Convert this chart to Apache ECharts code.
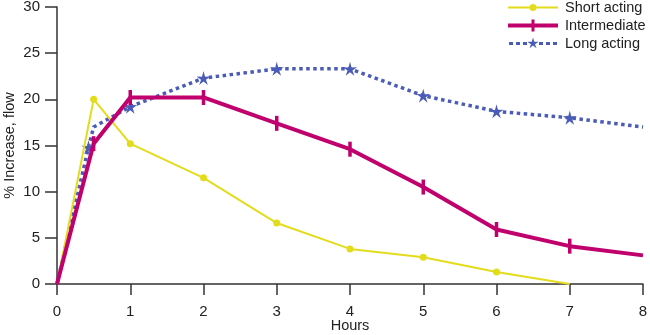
<!DOCTYPE html>
<html>
<head>
<meta charset="utf-8">
<script src="https://cdn.jsdelivr.net/npm/echarts@6/dist/echarts.min.js"></script>
<style>html,body{margin:0;padding:0;background:#fff}#c{width:650px;height:335px}</style>
</head>
<body>
<div id="c"></div>
<script>
const seriesNames = ['Short acting', 'Intermediate', 'Long acting'];
const shortHours = [0, 0.5, 1, 2, 3, 4, 5, 6, 7];
const shortValues = [0, 20.0, 15.2, 11.5, 6.6, 3.8, 2.9, 1.3, 0];
const interHours = [0, 0.5, 1, 2, 3, 4, 5, 6, 7, 8];
const interValues = [0, 15.2, 20.2, 20.2, 17.4, 14.6, 10.5, 5.9, 4.1, 3.1];
const longHours = [0, 0.43, 0.5, 1, 2, 3, 4, 5, 6, 7, 8];
const longValues = [0, 14.8, 17.0, 19.2, 22.3, 23.3, 23.3, 20.4, 18.7, 18.0, 17.0];
const longMarked = [false, true, false, true, true, true, true, true, true, true, false];
const interMarked = [false, true, true, true, true, true, true, true, true, false];
const shortMarked = [false, true, true, true, true, true, true, true, false];
const xTicks = [0, 8, 1];
const yTicks = [0, 30, 5];

const starPath = 'path://M0,-10 L2.06,-2.83 L9.51,-3.09 L3.33,1.08 L5.88,8.09 L0,3.5 L-5.88,8.09 L-3.33,1.08 L-9.51,-3.09 L-2.06,-2.83 Z';

// legend icons drawn in a 50x14 box (anchors at corners keep the box size)
const anchors = 'M0,0 L0.01,0 L0,0.01 Z M50,14 L49.99,14 L50,13.99 Z ';
const iconShort = 'path://' + anchors + 'M0,6 L21.5,6 L21.5,8 L0,8 Z M28.5,6 L50,6 L50,8 L28.5,8 Z M21.5,7 A3.5,3.5 0 1,1 28.5,7 A3.5,3.5 0 1,1 21.5,7 Z';
const iconInter = 'path://' + anchors + 'M0,5 L23.5,5 L23.5,9 L0,9 Z M26.5,5 L50,5 L50,9 L26.5,9 Z M23.5,1 L26.5,1 L26.5,13 L23.5,13 Z';
const iconLong = 'path://' + anchors +
  'M1,5.6 L5,5.6 L5,8.4 L1,8.4 Z M8,5.6 L12,5.6 L12,8.4 L8,8.4 Z M15,5.6 L19,5.6 L19,8.4 L15,8.4 Z ' +
  'M31,5.6 L35,5.6 L35,8.4 L31,8.4 Z M38,5.6 L42,5.6 L42,8.4 L38,8.4 Z M45,5.6 L49,5.6 L49,8.4 L45,8.4 Z ' +
  'M25,1 L26.24,5.3 L30.71,5.15 L27,7.65 L28.53,11.85 L25,9.1 L21.47,11.85 L23,7.65 L19.29,5.15 L23.76,5.3 Z';

function build(hours, vals, marked) {
  return hours.map((h, i) => marked[i] ? [h, vals[i]] : {value: [h, vals[i]], symbol: 'none'});
}

const axisColor = '#333';
const textColor = '#222';
const font = 'Liberation Sans, Arial, sans-serif';
const chart = echarts.init(document.getElementById('c'));
chart.setOption({
  animation: false,
  grid: {left: 57, right: 7, top: 7, bottom: 51, containLabel: false, outerBoundsMode: 'none'},
  legend: {
    orient: 'vertical', left: 508, top: 0, padding: 0, itemWidth: 50, itemHeight: 14, itemGap: 3,
    symbolKeepAspect: false,
    textStyle: {fontFamily: font, fontSize: 14.5, color: textColor, padding: [2, 0, 0, 2]},
    data: [
      {name: seriesNames[0], icon: iconShort},
      {name: seriesNames[1], icon: iconInter},
      {name: seriesNames[2], icon: iconLong}
    ]
  },
  xAxis: {
    type: 'value', min: xTicks[0], max: xTicks[1], interval: xTicks[2],
    name: 'Hours', nameLocation: 'middle', nameGap: 34, nameMoveOverlap: false,
    nameTextStyle: {fontFamily: font, fontSize: 14.5, color: textColor},
    axisLine: {show: true, lineStyle: {color: axisColor, width: 1.5}},
    axisTick: {show: true, length: 11, lineStyle: {color: axisColor, width: 1.5}},
    axisLabel: {fontFamily: font, fontSize: 15, color: textColor, margin: 20},
    splitLine: {show: false}
  },
  yAxis: {
    type: 'value', min: yTicks[0], max: yTicks[1], interval: yTicks[2],
    name: '% Increase, flow', nameLocation: 'middle', nameGap: 40, nameMoveOverlap: false,
    nameTextStyle: {fontFamily: font, fontSize: 14.5, color: textColor},
    axisLine: {show: true, lineStyle: {color: axisColor, width: 1.5}},
    axisTick: {show: true, length: 12, lineStyle: {color: axisColor, width: 1.5}},
    axisLabel: {fontFamily: font, fontSize: 15, color: textColor, margin: 17},
    splitLine: {show: false}
  },
  series: [
    {
      name: seriesNames[0], type: 'line', data: build(shortHours, shortValues, shortMarked),
      symbol: 'circle', symbolSize: 7, showAllSymbol: true,
      lineStyle: {color: '#e3dc1c', width: 2},
      itemStyle: {color: '#e3dc1c'}, z: 3
    },
    {
      name: seriesNames[1], type: 'line', data: build(interHours, interValues, interMarked),
      symbol: 'rect', symbolSize: [3.5, 15], showAllSymbol: true,
      lineStyle: {color: '#c0006c', width: 4},
      itemStyle: {color: '#c0006c'}, z: 4
    },
    {
      name: seriesNames[2], type: 'line', data: build(longHours, longValues, longMarked),
      symbol: starPath, symbolSize: 14, showAllSymbol: true,
      lineStyle: {color: '#4a5cb8', width: 3.5, type: [3.5, 3.5]},
      itemStyle: {color: '#4a5cb8'}, z: 2
    }
  ]
});
</script>
</body>
</html>
